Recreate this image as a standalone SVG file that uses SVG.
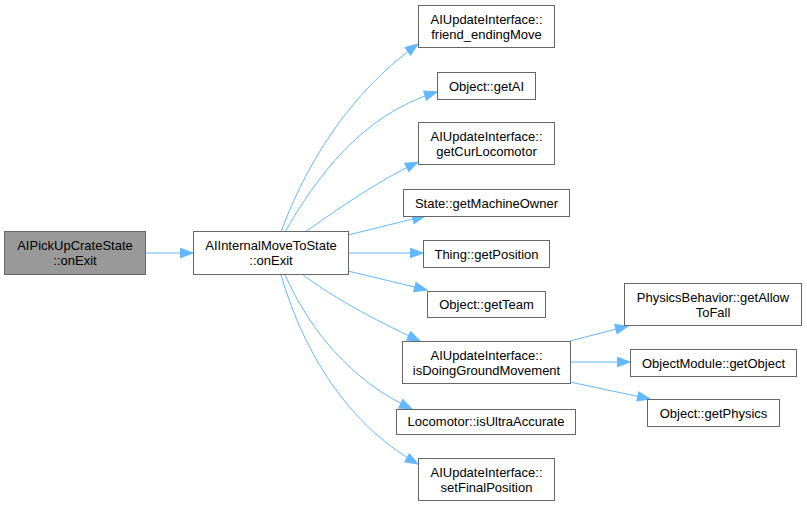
<svg xmlns="http://www.w3.org/2000/svg" width="807" height="507" viewBox="0 0 807 507">
<style>
.n rect{fill:#ffffff;stroke:#666666;stroke-width:1}
.n.root rect{fill:#999999}
.n text{font-family:"Liberation Sans",Arial,sans-serif;font-size:13px;fill:#000000;text-anchor:middle}
.e path{fill:none;stroke:#63b8ff;stroke-width:1;marker-end:url(#arr)}
</style>
<defs>
<marker id="arr" markerWidth="15" markerHeight="12" refX="13.5" refY="6" orient="auto" markerUnits="userSpaceOnUse">
<path d="M1,1.3 L13.5,6 L1,10.7 z" fill="#63b8ff" stroke="#63b8ff" stroke-width="1"/>
</marker>
</defs>
<rect width="807" height="507" fill="#ffffff"/>
<g id="edges" class="e">
<path d="M146,253 L193,253"/>
<path d="M281,232 C300,180 340,100 418,44"/>
<path d="M285,232 C315,180 360,115 437,92"/>
<path d="M305,232 C330,215 370,185 418,162"/>
<path d="M348,235 L425,216"/>
<path d="M348,253 L423,253"/>
<path d="M348,271 L427,290"/>
<path d="M303,275 C330,295 370,318 420,341"/>
<path d="M285,275 C310,330 350,380 412,409"/>
<path d="M281,275 C300,340 340,420 418,464"/>
<path d="M570,341 L628,326"/>
<path d="M570,362 L630,362"/>
<path d="M570,382 L650,399"/>
</g>
<g id="node_root" class="n root">
<rect x="4.5" y="231.5" width="141" height="43"/>
<text x="75" y="250">AIPickUpCrateState</text>
<text x="75" y="265">::onExit</text>
</g>
<g id="node_move" class="n">
<rect x="193.5" y="231.5" width="155" height="43"/>
<text x="271" y="250">AIInternalMoveToState</text>
<text x="271" y="265">::onExit</text>
</g>
<g id="node_friend" class="n">
<rect x="418.5" y="5.5" width="136" height="42"/>
<text x="486.5" y="23.5">AIUpdateInterface::</text>
<text x="486.5" y="38.5">friend_endingMove</text>
</g>
<g id="node_getai" class="n">
<rect x="437.5" y="72.5" width="98" height="27"/>
<text x="486.5" y="90.5">Object::getAI</text>
</g>
<g id="node_curloco" class="n">
<rect x="418.5" y="122.5" width="136" height="42"/>
<text x="486.5" y="140.5">AIUpdateInterface::</text>
<text x="486.5" y="155.5">getCurLocomotor</text>
</g>
<g id="node_machine" class="n">
<rect x="403.5" y="189.5" width="166" height="27"/>
<text x="486.5" y="207.5">State::getMachineOwner</text>
</g>
<g id="node_pos" class="n">
<rect x="423.5" y="240.5" width="126" height="27"/>
<text x="486.5" y="258.5">Thing::getPosition</text>
</g>
<g id="node_team" class="n">
<rect x="427.5" y="291.5" width="118" height="26"/>
<text x="486.5" y="309">Object::getTeam</text>
</g>
<g id="node_ground" class="n">
<rect x="402.5" y="341.5" width="168" height="42"/>
<text x="486.5" y="359.5">AIUpdateInterface::</text>
<text x="486.5" y="374.5">isDoingGroundMovement</text>
</g>
<g id="node_ultra" class="n">
<rect x="396.5" y="409.5" width="179" height="25"/>
<text x="486" y="426">Locomotor::isUltraAccurate</text>
</g>
<g id="node_final" class="n">
<rect x="418.5" y="458.5" width="136" height="42"/>
<text x="486.5" y="476.5">AIUpdateInterface::</text>
<text x="486.5" y="491.5">setFinalPosition</text>
</g>
<g id="node_fall" class="n">
<rect x="624.5" y="283.5" width="177" height="42"/>
<text x="713" y="301.5">PhysicsBehavior::getAllow</text>
<text x="713" y="316.5">ToFall</text>
</g>
<g id="node_getobj" class="n">
<rect x="630.5" y="349.5" width="166" height="27"/>
<text x="713.5" y="367.5">ObjectModule::getObject</text>
</g>
<g id="node_phys" class="n">
<rect x="647.5" y="399.5" width="132" height="27"/>
<text x="713.5" y="417.5">Object::getPhysics</text>
</g>
</svg>
